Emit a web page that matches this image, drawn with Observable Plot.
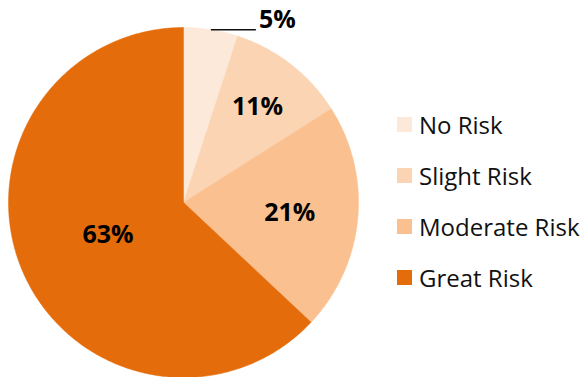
<!DOCTYPE html>
<html>
<head>
<meta charset="utf-8">
<script src="https://cdn.jsdelivr.net/npm/d3@7"></script>
<script src="https://cdn.jsdelivr.net/npm/@observablehq/plot@0.6"></script>
<style>
  html, body { margin: 0; padding: 0; background: #fff; }
  #wrap { position: relative; width: 588px; height: 377px; overflow: hidden; font-family: "Open Sans", "Noto Sans", sans-serif; }
  #legend { position: absolute; left: 397px; top: 99px; }
  .item { display: flex; align-items: center; height: 51px; font-size: 24px; color: #111; white-space: nowrap; }
  .sw { width: 15px; height: 15px; margin-right: 7px; flex: none; }
</style>
</head>
<body>
<div id="wrap"><div id="chart"></div><div id="legend"></div></div>
<script>
const categories = ["No Risk", "Slight Risk", "Moderate Risk", "Great Risk"];
const values = [5, 11, 21, 63];
const colors = ["#FDE9D9", "#FBD4B4", "#FAC090", "#E46C0A"];
const labelRadius = [1, 0.69, 0.61, 0.47];

// layout
const W = 588, H = 377, cx = 183, cy = 202, R = 175;

const total = d3.sum(values);
const arcs = d3.pie().sort(null).value(d => d)(values);

// polygon points for each slice (unit circle, angle clockwise from top)
const slicePts = arcs.map((a, i) => {
  const pts = [{x: 0, y: 0, k: categories[i]}];
  const n = Math.max(8, Math.ceil((a.endAngle - a.startAngle) / 0.01));
  for (let j = 0; j <= n; j++) {
    const t = a.startAngle + (a.endAngle - a.startAngle) * j / n;
    pts.push({x: Math.sin(t), y: Math.cos(t), k: categories[i]});
  }
  pts.push({x: 0, y: 0, k: categories[i]});
  return pts;
});

const labels = arcs.map((a, i) => {
  const m = (a.startAngle + a.endAngle) / 2;
  return {x: Math.sin(m) * labelRadius[i], y: Math.cos(m) * labelRadius[i], text: Math.round(values[i] / total * 100) + "%", i};
});

// leader for first (small) slice
const lead = labels[0];
const leadEnd = {x: lead.x + 45 / R, y: lead.y};

const marks = slicePts.map((pts, i) =>
  Plot.line(pts, {x: "x", y: "y", fill: colors[i], stroke: colors[i], strokeWidth: 0.5, curve: "linear"})
);
marks.push(Plot.link([lead], {x1: "x", y1: "y", x2: () => leadEnd.x, y2: () => leadEnd.y, stroke: "#111", strokeWidth: 1.5}));
marks.push(Plot.text([labels[0]], {x: () => leadEnd.x, y: () => leadEnd.y, text: "text", textAnchor: "start", dx: 3, dy: -10, fontSize: 25, fontWeight: "bold", fill: "#000"}));
marks.push(Plot.text(labels.slice(1), {x: "x", y: "y", text: "text", fontSize: 25, fontWeight: "bold", fill: "#000"}));

const chart = Plot.plot({
  width: W, height: H,
  margin: 0,
  x: {domain: [-cx / R, (W - cx) / R], axis: null},
  y: {domain: [-(H - cy) / R, cy / R], axis: null},
  style: {fontFamily: "'Open Sans', 'Noto Sans', sans-serif", background: "white"},
  marks
});
document.getElementById("chart").appendChild(chart);

const legend = document.getElementById("legend");
categories.forEach((c, i) => {
  const it = document.createElement("div");
  it.className = "item";
  const sw = document.createElement("div");
  sw.className = "sw";
  sw.style.background = colors[i];
  const tx = document.createElement("span");
  tx.textContent = c;
  it.appendChild(sw); it.appendChild(tx);
  legend.appendChild(it);
});
</script>
</body>
</html>
